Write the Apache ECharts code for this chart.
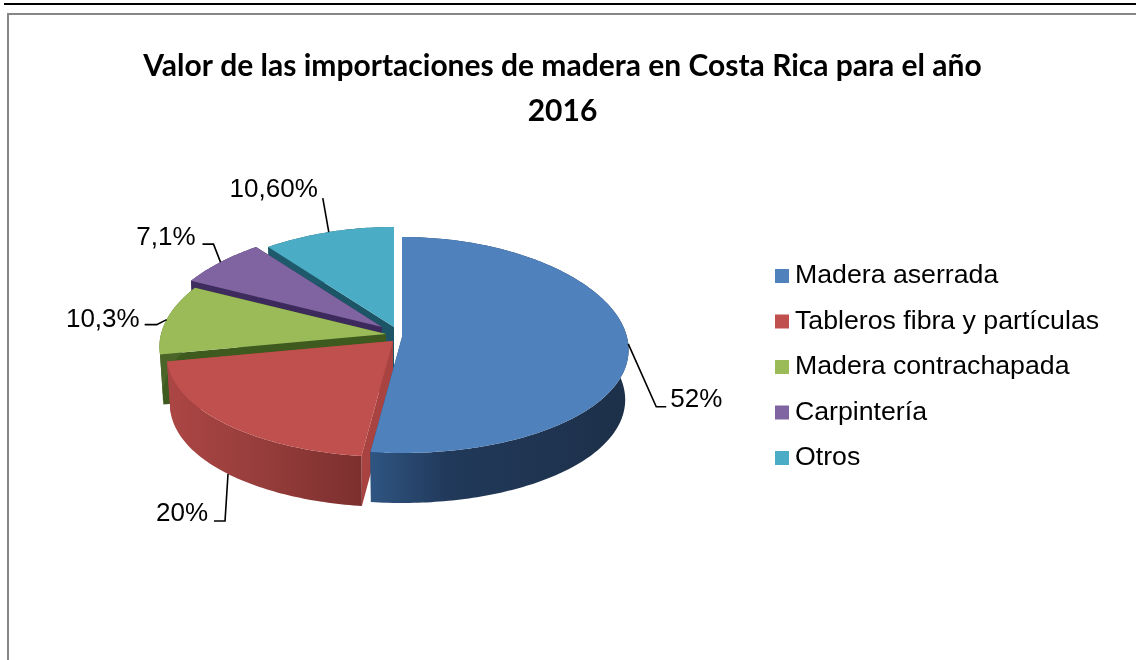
<!DOCTYPE html>
<html>
<head>
<meta charset="utf-8">
<style>html,body{margin:0;padding:0;background:#fff}#c{width:1136px;height:660px}</style>
<script src="https://cdn.jsdelivr.net/npm/echarts@6/dist/echarts.min.js"></script>
</head>
<body>
<div id="c"></div>
<script>
const titleText = 'Valor de las importaciones de madera en Costa Rica para el año\n2016';
const categories = ['Madera aserrada', 'Tableros fibra y partículas', 'Madera contrachapada', 'Carpintería', 'Otros'];
const shares = [52, 20, 10.3, 7.1, 10.6];
const shareLabels = ['52%', '20%', '10,3%', '7,1%', '10,60%'];

// Styling
const topColors = ['#4f81bd', '#c0504d', '#9bbb59', '#8064a2', '#4bacc6'];
const cutColors = ['#2a4a72', '#a84341', '#3f5a1e', '#3d2a5c', '#1c5566'];
const wallStops = [
  [[0, '#2f5582'], [0.3, '#21395a'], [1, '#1d3049']],
  [[0, '#ac4644'], [0.5, '#953d3b'], [1, '#7c2f2e']],
  [[0, '#4a6527'], [1, '#4a6527']],
  [[0, '#3f2c5e'], [1, '#3f2c5e']],
  [[0, '#1e5a6b'], [1, '#1e5a6b']]
];
// explosion of each slice from the pie centre
const explodeX = [10, 1, -6, -10, 2];
const explodeY = [4, 8, 1, -6, -6];
// leader geometry relative to the slice's rim anchor
const leaderElbow = [[28, 63], [-3, 47], [-10, 5], [-7, -18], [-6, -34]];
const leaderEnd = [[38, 63], [-14, 47], [-22, 5], [-18, -18], [-6, -34]];
const labelGap = [[42, 56], [-20, 40], [-27, 0], [-25, -24], [-11, -42]];
const anchorOnBase = [false, true, false, false, false];

const PIE = {cx: 392, cy: 333, rx: 225, rxPersp: 27, ry: 108, ryPersp: 8, depth: 50, baseScale: 0.985};
const total = shares.reduce((a, b) => a + b, 0);

function rimPoint(i, deg) {
  const t = deg * Math.PI / 180, s = Math.sin(t), c = Math.cos(t);
  return [
    PIE.cx + explodeX[i] + s * (PIE.rx - PIE.rxPersp * c),
    PIE.cy + explodeY[i] - c * (PIE.ry - PIE.ryPersp * c)
  ];
}
function toBase(i, p) {
  const ax = PIE.cx + explodeX[i];
  return [ax + (p[0] - ax) * PIE.baseScale, p[1] + PIE.depth];
}
function sliceSpan(i) {
  let before = 0;
  for (let k = 0; k < i; k++) before += shares[k];
  return [before / total * 360, (before + shares[i]) / total * 360];
}
function makeRender(i) {
  return function (params, api) {
    const value = api.value(0);
    const [a0] = sliceSpan(i);
    const a1 = a0 + value / total * 360;
    const apex = [PIE.cx + explodeX[i], PIE.cy + explodeY[i]];
    const apexBase = toBase(i, apex);
    const arc = [];
    const steps = Math.max(8, Math.ceil(a1 - a0));
    for (let k = 0; k <= steps; k++) arc.push(rimPoint(i, a0 + (a1 - a0) * k / steps));
    const baseArc = arc.map(p => toBase(i, p));
    const first = arc[0], last = arc[arc.length - 1];
    const children = [];
    const poly = (pts, fill) => ({type: 'polygon', shape: {points: pts}, style: {fill: fill, stroke: null}, silent: true});
    children.push(poly([apex, first, baseArc[0], apexBase], cutColors[i]));
    children.push(poly([apex, last, baseArc[baseArc.length - 1], apexBase], cutColors[i]));
    children.push(poly(arc.concat(baseArc.slice().reverse()),
      {type: 'linear', x: 0, y: 0, x2: 1, y2: 0,
       colorStops: wallStops[i].map(s => ({offset: s[0], color: s[1]}))}));
    children.push(poly([apex].concat(arc), topColors[i]));
    let an = rimPoint(i, (a0 + a1) / 2);
    if (anchorOnBase[i]) an = toBase(i, an);
    children.push({type: 'polyline', silent: true,
      shape: {points: [an,
        [an[0] + leaderElbow[i][0], an[1] + leaderElbow[i][1]],
        [an[0] + leaderEnd[i][0], an[1] + leaderEnd[i][1]]]},
      style: {stroke: '#000', lineWidth: 1.6, fill: null}});
    children.push({type: 'text', silent: true,
      x: an[0] + labelGap[i][0], y: an[1] + labelGap[i][1],
      style: {text: shareLabels[i], fill: '#000',
        font: '26px "Liberation Sans", Arial, sans-serif',
        align: labelGap[i][0] > 0 ? 'left' : 'right', verticalAlign: 'middle'}});
    return {type: 'group', children: children};
  };
}

const series = [4, 3, 2, 1, 0].map((i, order) => ({
  type: 'custom',
  name: categories[i],
  coordinateSystem: 'none',
  z: 2 + order,
  animation: false,
  silent: true,
  itemStyle: {color: topColors[i]},
  data: [shares[i]],
  renderItem: makeRender(i)
}));

const chart = echarts.init(document.getElementById('c'), null, {renderer: 'canvas'});
chart.setOption({
  animation: false,
  backgroundColor: '#fff',
  title: {
    text: titleText,
    left: 557.5, top: 39, textAlign: 'center',
    textStyle: {fontFamily: 'Lato', fontWeight: 'bold', fontSize: 30, lineHeight: 45, color: '#000'}
  },
  legend: {
    orient: 'vertical',
    left: 775, top: 260, padding: 0,
    icon: 'rect',
    itemWidth: 14, itemHeight: 14, itemGap: 13.5,
    selectedMode: false,
    data: categories,
    textStyle: {fontFamily: '"Liberation Sans"', fontSize: 26.7, color: '#000', lineHeight: 30, padding: [2, 0, 0, 1]}
  },
  graphic: [
    {type: 'line', silent: true, z: 0, shape: {x1: 4, y1: 4, x2: 1136, y2: 4}, style: {stroke: '#000', lineWidth: 2}},
    {type: 'polyline', silent: true, z: 0, shape: {points: [[8, 660], [8, 14], [1136, 14]]}, style: {stroke: '#868686', lineWidth: 2, fill: null}}
  ],
  series: series
});
</script>
</body>
</html>
